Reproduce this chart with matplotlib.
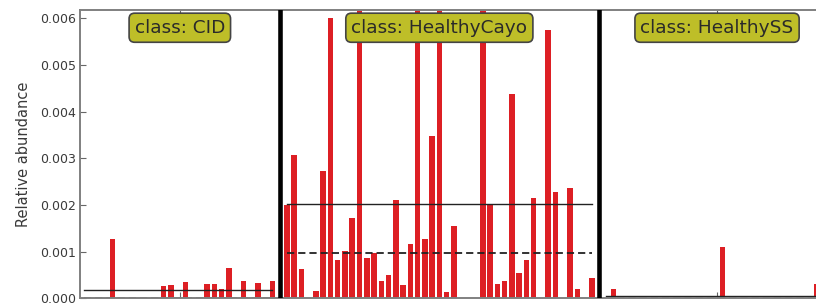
import numpy as np
import matplotlib
matplotlib.use('Agg')
import matplotlib.pyplot as plt

# class names and sample counts
classes = ['CID', 'HealthyCayo', 'HealthySS']
n_samples = [27, 43, 32]

# relative abundance per sample (non-zero entries: sample index -> value)
cid_vals = {4: 0.00127, 11: 0.00026, 12: 0.00028, 14: 0.00036, 17: 0.00030,
            18: 0.00031, 19: 0.00020, 20: 0.00065, 22: 0.00037, 24: 0.00033,
            26: 0.00037}
cayo_vals = [0.00199, 0.00308, 0.00062, 0.0, 0.00015, 0.00272, 0.00600, 0.00083,
             0.00102, 0.00172, 0.00820, 0.00086, 0.00097, 0.00037, 0.00050, 0.00210,
             0.00028, 0.00116, 0.00950, 0.00128, 0.00347, 0.00880, 0.00014, 0.00156,
             0.0, 0.0, 0.0, 0.00800, 0.00200, 0.00031, 0.00038, 0.00437,
             0.00054, 0.00083, 0.00215, 0.0, 0.00576, 0.00227, 0.0, 0.00236,
             0.00019, 0.0, 0.00043]
ss_vals = {1: 0.00020, 16: 0.00110, 29: 0.00030}

yticks = [0.000, 0.001, 0.002, 0.003, 0.004, 0.005, 0.006]

cid = np.zeros(n_samples[0])
for k, v in cid_vals.items():
    cid[k] = v
cayo = np.array(cayo_vals)
ss = np.zeros(n_samples[2])
for k, v in ss_vals.items():
    ss[k] = v
data = [cid, cayo, ss]

fig = plt.figure(figsize=(8.16, 3.05), dpi=100)
ax = fig.add_axes([80 / 816, 1 - 298.3 / 305, (835 - 80) / 816, (298.3 - 10) / 305])

red = '#dd1f24'
start = 0
centers = []
for ci, vals in enumerate(data):
    xs = np.arange(start, start + len(vals))
    ax.bar(xs, vals, width=0.76, color=red, linewidth=0, zorder=2)
    # mean (solid) and median (dashed)
    ax.plot([xs[0], xs[-1]], [np.mean(vals)] * 2, color='#222222', lw=1.0, zorder=2.2)
    ax.plot([xs[0], xs[-1]], [np.median(vals)] * 2, color='#222222', lw=1.3,
            linestyle=(0, (4, 2.2)), zorder=2.2)
    end = start + len(vals)
    lo = start - 0.5 if ci == 0 else start - 1
    hi = end if ci < len(data) - 1 else 103.5
    centers.append((lo + hi) / 2.0)
    if ci < len(data) - 1:
        ax.axvline(end, color='black', lw=3.3, zorder=4)
    start = end + 1

for c, name in zip(centers, classes):
    ax.text(c, 0.0058, 'class: ' + name, ha='center', va='center', fontsize=13.3,
            color='#2a2a2a', zorder=5,
            bbox=dict(boxstyle='round,pad=0.3', facecolor='#bebe28', edgecolor='#444444', lw=1.2))

ax.set_xlim(-0.5, 103.5)
ax.set_ylim(0, 0.00618)
ax.set_yticks(yticks)
ax.set_yticklabels(['%.3f' % t for t in yticks])
ax.set_xticks(centers)
ax.set_xticklabels([])
ax.tick_params(direction='in', length=4, width=0.8, color='#666666',
               top=True, right=True, labelsize=9, labelcolor='#3a3a3a', pad=3)
ax.set_ylabel('Relative abundance', fontsize=10.5, color='#3a3a3a', labelpad=6)
for s in ax.spines.values():
    s.set_color('#808080')
    s.set_linewidth(1.4)

fig.savefig('out.png', dpi=100)
